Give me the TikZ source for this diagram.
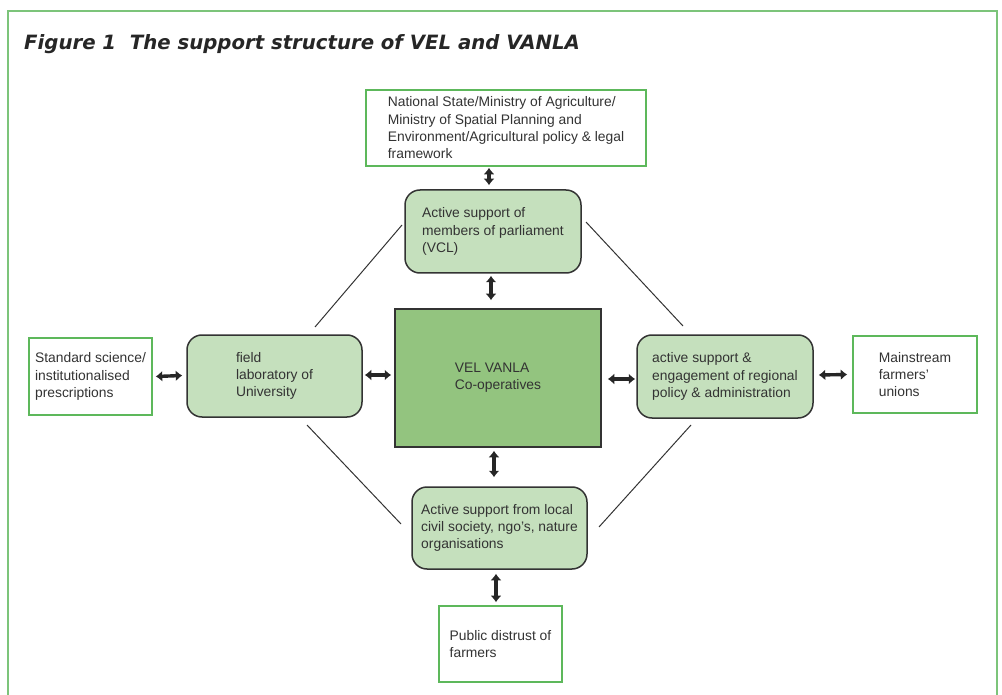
\documentclass[tikz,border=0pt]{standalone}
\usepackage{fontspec}
\setmainfont{Liberation Sans}
\newfontfamily\titlefont{DejaVu Sans}
\usepackage{xcolor}
\usetikzlibrary{arrows.meta}
\definecolor{framegreen}{HTML}{7CC47A}
\definecolor{boxgreen}{HTML}{5DB85B}
\definecolor{palegreen}{HTML}{C5E0BD}
\definecolor{coregreen}{HTML}{93C47F}
\definecolor{inkgray}{HTML}{333333}

\begin{document}
\begin{tikzpicture}[x=1pt,y=-1pt,
  every node/.style={font=\fontsize{13.85}{17.3}\selectfont,text=inkgray,align=left,inner sep=0pt},
  greenbox/.style={draw=boxgreen,line width=1.6pt,fill=white},
  roundbox/.style={draw=inkgray,line width=1.5pt,fill=palegreen,rounded corners=15pt},
  corebox/.style={draw=inkgray,line width=1.5pt,fill=coregreen},
  dbl/.style={line width=3.4pt,draw=black!85,{Latex[length=6.5pt,width=11pt]}-{Latex[length=6.5pt,width=11pt]}}]
\useasboundingbox (0,0) rectangle (1002,695);
\draw[framegreen,line width=2pt] (7.5,710) -- (7.5,11.5) -- (997,11.5) -- (997,710);
\node[anchor=base west,font=\titlefont\bfseries\itshape\fontsize{19.7}{23}\selectfont,text=black!85] (title) at (24,50) {Figure 1\ \ The support structure of VEL and VANLA};

% boxes
\node[greenbox,minimum width=280pt,minimum height=76pt] (nat) at (506,128) {National State/Ministry of Agriculture/\\Ministry of Spatial Planning and\\Environment/Agricultural policy \& legal\\framework};
\node[roundbox,minimum width=176pt,minimum height=83pt] (parl) at (493,231.5) {Active support of\\members of parliament\\(VCL)};
\node[corebox,minimum width=206pt,minimum height=138pt] (core) at (498,378) {VEL VANLA\\Co-operatives};
\node[roundbox,minimum width=175pt,minimum height=82pt] (lab) at (274.5,376) {field\\laboratory of\\University};
\node[roundbox,minimum width=176pt,minimum height=83pt] (reg) at (725,376.5) {active support \&\\engagement of regional\\policy \& administration};
\node[greenbox,minimum width=123pt,minimum height=77pt] (sci) at (90.5,376.5) {Standard science/\\institutionalised\\prescriptions};
\node[greenbox,minimum width=124pt,minimum height=77pt] (union) at (915,374.5) {Mainstream\\farmers'\\unions};
\node[roundbox,minimum width=175pt,minimum height=82pt] (civ) at (499.5,528) {Active support from local\\civil society, ngo's, nature\\organisations};
\node[greenbox,minimum width=123pt,minimum height=76pt] (pub) at (500.5,644) {Public distrust of\\farmers};

% arrows
\draw[dbl] ([xshift=-17pt,yshift=-1pt]nat.south) -- ([xshift=-4pt,yshift=4pt]parl.north);
\draw[dbl] ([xshift=-2pt,yshift=-2pt]parl.south) -- ([xshift=-7pt,yshift=8pt]core.north);
\draw[dbl] ([xshift=-4pt,yshift=-3pt]core.south) -- ([xshift=-5.5pt,yshift=9pt]civ.north);
\draw[dbl] ([xshift=-3.5pt,yshift=-4pt]civ.south) -- ([xshift=-4.5pt,yshift=3pt]pub.north);
\draw[dbl] ([xshift=3pt]sci.east) -- ([xshift=-4pt,yshift=0.5pt]lab.west);
\draw[dbl] ([xshift=2pt,yshift=1pt]lab.east) -- ([xshift=-3pt,yshift=3pt]core.west);
\draw[dbl] ([xshift=6pt,yshift=-1pt]core.east) -- ([xshift=-1pt,yshift=-2.5pt]reg.west);
\draw[dbl] ([xshift=5pt,yshift=1.5pt]reg.east) -- ([xshift=-5pt]union.west);

% diagonals
\draw[line width=1pt,inkgray] (315,327) -- (402,225);
\draw[line width=1pt,inkgray] (586,222) -- (683,326);
\draw[line width=1pt,inkgray] (307,425) -- (401,524);
\draw[line width=1pt,inkgray] (691,425) -- (599,527);
\end{tikzpicture}
\end{document}
